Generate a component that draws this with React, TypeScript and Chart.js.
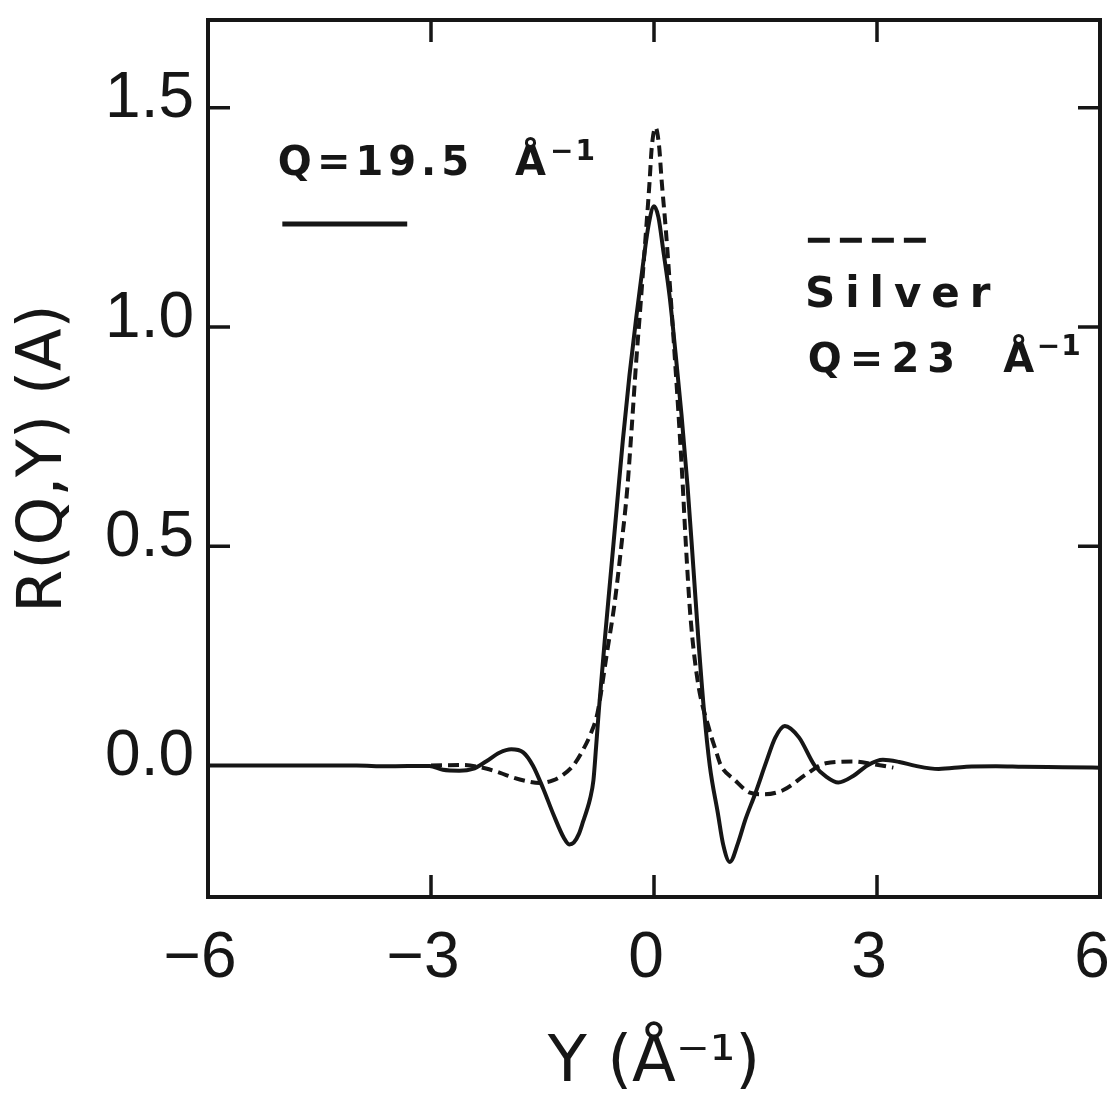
import React, { useEffect, useRef } from "react";
import { Chart, registerables } from "chart.js";

Chart.register(...registerables);

// ---------- data ----------
const xTickValues = [-6, -3, 0, 3, 6];
const yTickValues = [0, 0.5, 1.0, 1.5];
const innerXTicks = [-3, 0, 3];
const innerYTicks = [0.5, 1.0, 1.5];

const seriesLabels = ["Q = 19.5 Å⁻¹", "Silver, Q = 23 Å⁻¹"];
const xTitle = "Y (Å⁻¹)";
const yTitle = "R(Q,Y) (A)";

// solid curve: Q = 19.5 Å^-1
const solidX = [
  -6.0, -5.0, -4.0, -3.6, -3.02, -2.84, -2.62, -2.44, -2.26, -2.08,
  -1.92, -1.76, -1.63, -1.49, -1.35, -1.21, -1.14, -1.08, -1.01, -0.95,
  -0.905, -0.86, -0.815, -0.78, -0.74, -0.66, -0.58, -0.5, -0.42, -0.33,
  -0.24, -0.15, -0.07, 0.0, 0.06, 0.12, 0.21, 0.29, 0.37, 0.45,
  0.53, 0.6, 0.67, 0.75, 0.86, 0.93, 1.02, 1.13, 1.23, 1.36,
  1.51, 1.63, 1.76, 1.95, 2.16, 2.32, 2.48, 2.68, 2.87, 3.08,
  3.3, 3.52, 3.83, 4.2, 4.6, 4.96, 5.5, 6.0,
];
const solidY = [
  0.0, 0.0, 0.0, -0.002, -0.001, -0.01, -0.012, -0.008, 0.009, 0.029,
  0.037, 0.03, 0.0, -0.053, -0.113, -0.166, -0.18, -0.176, -0.156, -0.126,
  -0.103, -0.076, -0.034, 0.04, 0.13, 0.29, 0.44, 0.59, 0.74, 0.89,
  1.02, 1.14, 1.235, 1.275, 1.25, 1.18, 1.07, 0.94, 0.8, 0.64,
  0.45, 0.28, 0.13, 0.0, -0.11, -0.18, -0.22, -0.177, -0.123, -0.065,
  0.008, 0.063, 0.09, 0.064, 0.0, -0.026, -0.039, -0.024, 0.0, 0.013,
  0.008, -0.001, -0.008, -0.003, -0.002, -0.003, -0.004, -0.005,
];

// dashed curve: Silver, Q = 23 Å^-1
const dashedX = [
  -3.0, -2.57, -2.26, -2.07, -1.89, -1.71, -1.54, -1.36, -1.22, -1.09,
  -0.96, -0.85, -0.76, -0.63, -0.53, -0.44, -0.36, -0.3, -0.24, -0.19,
  -0.12, -0.06, -0.03, 0.02, 0.07, 0.1, 0.16, 0.22, 0.28, 0.33,
  0.38, 0.43, 0.49, 0.59, 0.74, 0.83, 0.9, 1.08, 1.29, 1.47,
  1.74, 2.05, 2.31, 2.68, 2.95, 3.22,
];
const dashedY = [
  0.0, 0.001, -0.007, -0.017, -0.028, -0.036, -0.04, -0.034, -0.021, -0.001,
  0.034, 0.073, 0.12, 0.26, 0.37, 0.5, 0.63, 0.77, 0.92, 1.03,
  1.19, 1.33, 1.41, 1.455, 1.41, 1.34, 1.22, 1.08, 0.93, 0.8,
  0.66, 0.5, 0.34, 0.19, 0.084, 0.035, 0.0, -0.032, -0.062, -0.066,
  -0.056, -0.02, 0.005, 0.009, 0.003, -0.005,
];

// ---------- annotation layout (data coordinates) ----------
const noteItems = [
  { text: "Q=19.5", x: -5.06, y: 1.347, size: 40, spacing: 5 },
  { text: "Å", x: -1.87, y: 1.347, size: 40, spacing: 0 },
  { text: "−1", x: -1.4, y: 1.381, size: 28, spacing: 2 },
  { text: "Silver", x: 2.03, y: 1.046, size: 42, spacing: 10 },
  { text: "Q=23", x: 2.07, y: 0.897, size: 40, spacing: 8 },
  { text: "Å", x: 4.7, y: 0.897, size: 40, spacing: 0 },
  { text: "−1", x: 5.15, y: 0.936, size: 28, spacing: 1 },
];
const keyLines = [
  { x1: -5.0, x2: -3.32, y: 1.235, dash: [] as number[] },
  { x1: 2.07, x2: 3.71, y: 1.198, dash: [22, 10] },
];

const INK = "#161616";
const TICK_LEN = 22;

const framePlugin = {
  id: "frameTicks",
  afterDatasetsDraw(chart: any) {
    const { ctx, chartArea, scales } = chart;
    const { left, right, top, bottom } = chartArea;
    const xs = scales.x;
    const ys = scales.y;
    ctx.save();
    ctx.strokeStyle = INK;
    ctx.lineWidth = 4;
    ctx.lineCap = "butt";
    ctx.strokeRect(left, top, right - left, bottom - top);
    ctx.lineWidth = 3.5;
    ctx.beginPath();
    innerXTicks.forEach((v) => {
      const px = xs.getPixelForValue(v);
      ctx.moveTo(px, bottom);
      ctx.lineTo(px, bottom - TICK_LEN);
      ctx.moveTo(px, top);
      ctx.lineTo(px, top + TICK_LEN);
    });
    innerYTicks.forEach((v) => {
      const py = ys.getPixelForValue(v);
      ctx.moveTo(left, py);
      ctx.lineTo(left + TICK_LEN, py);
      ctx.moveTo(right, py);
      ctx.lineTo(right - TICK_LEN, py);
    });
    ctx.stroke();

    // key lines
    keyLines.forEach((k) => {
      ctx.beginPath();
      ctx.lineWidth = 5;
      ctx.setLineDash(k.dash);
      ctx.moveTo(xs.getPixelForValue(k.x1), ys.getPixelForValue(k.y));
      ctx.lineTo(xs.getPixelForValue(k.x2), ys.getPixelForValue(k.y));
      ctx.stroke();
    });
    ctx.setLineDash([]);

    // handwritten-style notes
    ctx.fillStyle = INK;
    ctx.textAlign = "left";
    ctx.textBaseline = "alphabetic";
    noteItems.forEach((n) => {
      ctx.font = `bold ${n.size}px "DejaVu Sans", sans-serif`;
      (ctx as any).letterSpacing = `${n.spacing}px`;
      ctx.fillText(n.text, xs.getPixelForValue(n.x), ys.getPixelForValue(n.y));
    });
    (ctx as any).letterSpacing = "0px";
    ctx.restore();
  },
};

export default function App() {
  const canvasRef = useRef<HTMLCanvasElement | null>(null);

  useEffect(() => {
    if (!canvasRef.current) return;
    const tickFont = { family: '"Liberation Sans", Arial, sans-serif', size: 64 };
    const chart = new Chart(canvasRef.current, {
      type: "line",
      data: {
        datasets: [
          {
            label: seriesLabels[0],
            data: solidX.map((x, i) => ({ x, y: solidY[i] })),
            borderColor: INK,
            borderWidth: 4,
            pointRadius: 0,
            fill: false,
            cubicInterpolationMode: "monotone",
          },
          {
            label: seriesLabels[1],
            data: dashedX.map((x, i) => ({ x, y: dashedY[i] })),
            borderColor: INK,
            borderWidth: 4,
            borderDash: [11, 6],
            pointRadius: 0,
            fill: false,
            cubicInterpolationMode: "monotone",
          },
        ],
      },
      options: {
        animation: false,
        responsive: true,
        maintainAspectRatio: false,
        layout: { padding: { top: 20, right: 11, left: 0, bottom: 0 } },
        plugins: {
          legend: { display: false },
          tooltip: { enabled: false },
        },
        scales: {
          x: {
            type: "linear",
            min: -6,
            max: 6,
            afterBuildTicks: (scale: any) => {
              scale.ticks = xTickValues.map((v) => ({ value: v }));
            },
            afterFit: (scale: any) => {
              scale.height = 217;
              scale.paddingLeft = 0;
              scale.paddingRight = 0;
            },
            grid: { display: false, drawTicks: false },
            border: { display: false },
            ticks: {
              color: INK,
              font: tickFont,
              padding: 24,
              labelOffset: -8,
              maxRotation: 0,
              autoSkip: false,
              callback: (v: any) => (Number(v) < 0 ? "−" + Math.abs(Number(v)) : String(v)),
            },
            title: {
              display: true,
              text: xTitle,
              color: INK,
              font: { family: '"DejaVu Sans", sans-serif', size: 64 },
              padding: { top: 0, bottom: 11 },
            },
          },
          y: {
            type: "linear",
            min: -0.3,
            max: 1.7,
            afterBuildTicks: (scale: any) => {
              scale.ticks = yTickValues.map((v) => ({ value: v }));
            },
            afterFit: (scale: any) => {
              scale.width = 208;
              scale.paddingTop = 0;
              scale.paddingBottom = 0;
            },
            grid: { display: false, drawTicks: false },
            border: { display: false },
            ticks: {
              color: INK,
              font: tickFont,
              padding: 14,
              labelOffset: -8,
              autoSkip: false,
              callback: (v: any) => Number(v).toFixed(1),
            },
            title: {
              display: true,
              text: yTitle,
              color: INK,
              font: { family: '"DejaVu Sans", sans-serif', size: 62 },
              padding: { top: 8, bottom: 0 },
            },
          },
        },
      },
      plugins: [framePlugin],
    } as any);
    return () => chart.destroy();
  }, []);

  return (
    <div
      style={{
        position: "absolute",
        left: 0,
        top: 0,
        width: 1111,
        height: 1114,
        background: "#ffffff",
      }}
    >
      <canvas ref={canvasRef} />
    </div>
  );
}
